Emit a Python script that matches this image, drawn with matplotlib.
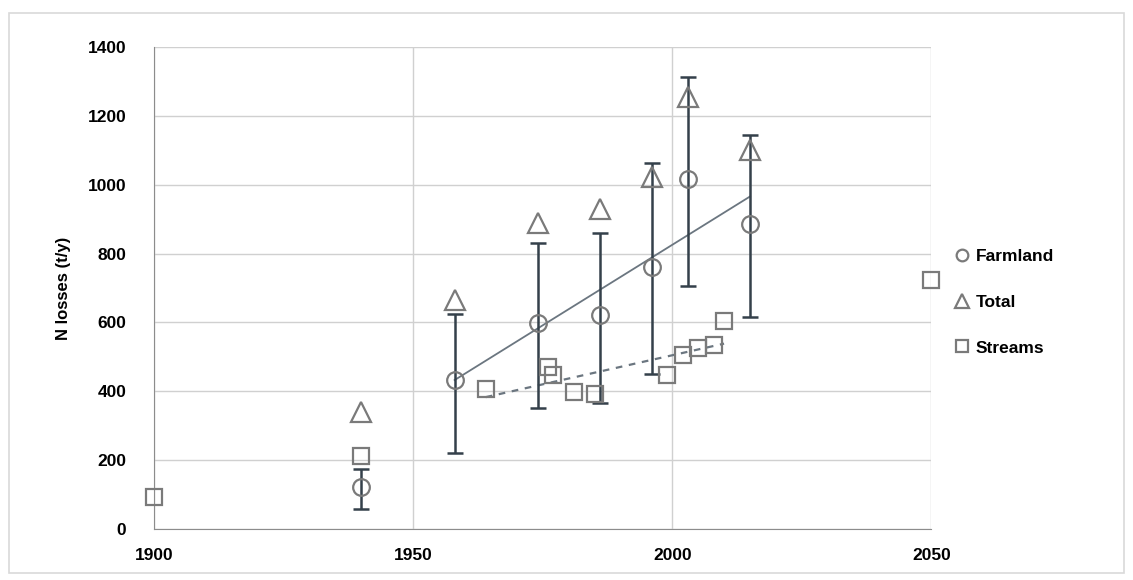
import numpy as np
import matplotlib
matplotlib.use("Agg")
from matplotlib import pyplot as plt
from matplotlib.patches import Rectangle

# Farmland losses with error bars
farm_years = [1940, 1958, 1974, 1986, 1996, 2003, 2015]
farm_vals = [122, 433, 598, 621, 761, 1017, 886]
farm_low = [58, 221, 351, 366, 450, 707, 616]
farm_high = [174, 624, 831, 860, 1063, 1313, 1144]

# Total losses
total_years = [1940, 1958, 1974, 1986, 1996, 2003, 2015]
total_vals = [340, 665, 890, 928, 1022, 1255, 1100]

# Stream losses
stream_years = [1900, 1940, 1964, 1976, 1977, 1981, 1985, 1999, 2002, 2005, 2008, 2010, 2050]
stream_vals = [93, 212, 407, 471, 447, 398, 392, 447, 505, 526, 534, 604, 723]

marker_col = "#7a7a7a"
err_col = "#34404a"
line_col = "#6b7680"

plt.rcParams["font.family"] = ["Liberation Sans", "DejaVu Sans"]

fig = plt.figure(figsize=(11.33, 5.8), dpi=100)
ax = fig.add_axes([0.136, 0.088, 0.686, 0.831])

fig.patches.append(Rectangle((0.008, 0.012), 0.984, 0.965, transform=fig.transFigure,
                             fill=False, edgecolor="#d9d9d9", linewidth=1.2))

# error bars (farmland)
fy = np.array(farm_vals)
yerr = [fy - np.array(farm_low), np.array(farm_high) - fy]
ax.errorbar(farm_years, farm_vals, yerr=yerr, fmt="none", ecolor=err_col,
            elinewidth=1.8, capsize=6, capthick=1.8, zorder=3)

# linear trendlines
fx = np.array(farm_years[1:])
p = np.polyfit(fx, fy[1:], 1)
ax.plot([fx.min(), fx.max()], np.polyval(p, [fx.min(), fx.max()]),
        color=line_col, lw=1.3, zorder=2)

sx = np.array(stream_years[2:12])
sy = np.array(stream_vals[2:12])
q = np.polyfit(sx, sy, 1)
ax.plot([sx.min(), sx.max()], np.polyval(q, [sx.min(), sx.max()]),
        color=line_col, lw=1.6, ls=(0, (3, 3)), zorder=2)

ax.plot(farm_years, farm_vals, "o", ms=12, mfc="none", mec=marker_col, mew=1.6,
        label="Farmland", zorder=4, clip_on=False)
ax.plot(total_years, total_vals, "^", ms=14, mfc="none", mec=marker_col, mew=1.6,
        label="Total", zorder=4, clip_on=False)
ax.plot(stream_years, stream_vals, "s", ms=12, mfc="none", mec=marker_col, mew=1.6,
        label="Streams", zorder=4, clip_on=False)

ax.set_xlim(1900, 2050)
ax.set_ylim(0, 1400)
ax.set_xticks([1900, 1950, 2000, 2050])
ax.set_yticks(range(0, 1401, 200))
ax.grid(True, color="#d0d0d0", lw=1)
ax.set_axisbelow(True)
for s in ["top", "right"]:
    ax.spines[s].set_visible(False)
for s in ["left", "bottom"]:
    ax.spines[s].set_color("#8c8c8c")
ax.tick_params(axis="x", length=0, labelsize=12.5, pad=14)
ax.tick_params(axis="y", length=0, labelsize=12.5, pad=20)
for lab in ax.get_xticklabels() + ax.get_yticklabels():
    lab.set_fontweight("bold")
ax.set_ylabel("N losses (t/y)", fontsize=12, fontweight="bold", labelpad=12)

leg = ax.legend(loc="center left", bbox_to_anchor=(1.01, 0.47), frameon=False,
                prop={"weight": "bold", "size": 12.5}, markerscale=0.7,
                handlelength=0.8, handletextpad=0.4, labelspacing=1.75)

fig.savefig("out.png", dpi=100)
